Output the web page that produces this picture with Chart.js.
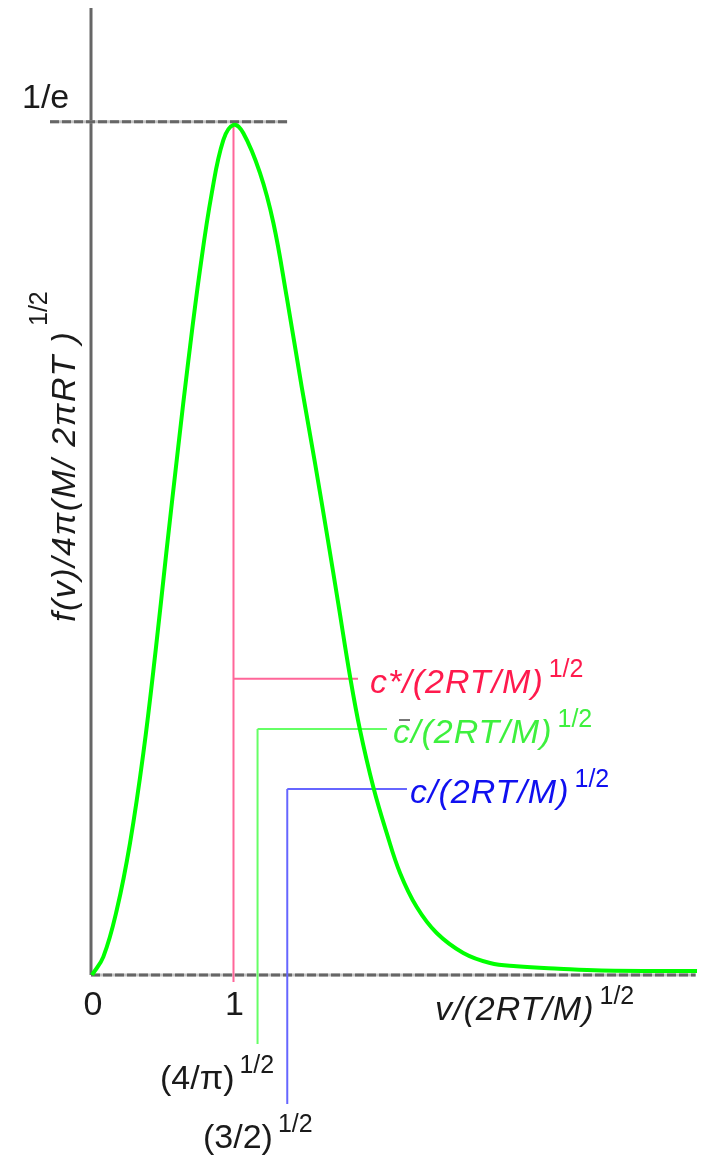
<!DOCTYPE html>
<html>
<head>
<meta charset="utf-8">
<script src="https://cdn.jsdelivr.net/npm/chart.js@4/dist/chart.umd.min.js"></script>
<style>
  html, body { margin: 0; padding: 0; background: #fff; }
  #mb { display: block; }
</style>
</head>
<body>
<canvas id="mb" width="704" height="1155"></canvas>
<script>
// reduced speed x = v/(2RT/M)^1/2 and reduced density
const xValues = [0, 0.080, 0.175, 0.269, 0.363, 0.450, 0.525, 0.610, 0.681, 0.763, 0.846, 0.928, 1.000,
  1.069, 1.187, 1.282, 1.376, 1.482, 1.576, 1.666, 1.741, 1.823, 1.894, 1.988, 2.083, 2.177, 2.295,
  2.436, 2.624, 2.813, 3.000, 3.300, 3.600, 4.276];
const fValues = [0, 0.0078, 0.0280, 0.0570, 0.0957, 0.1400, 0.1820, 0.2280, 0.2650, 0.3040, 0.3370, 0.3600, 0.3666,
  0.3631, 0.3459, 0.3243, 0.2924, 0.2536, 0.2208, 0.1880, 0.1600, 0.1290, 0.1057, 0.0811, 0.0612, 0.0440, 0.0293,
  0.0181, 0.0095, 0.0052, 0.0038, 0.0027, 0.0019, 0.0017];

const peakValue = 0.3679;              // 1/e
const xTicks = [0, 1];
const xTickLabels = ['0', '1'];

// c*, c-bar, c : marker speed, height of the leader, speed where the leader ends
const markerNames = ['c*/(2RT/M)', 'c/(2RT/M)', 'c/(2RT/M)'];
const markerSpeeds = [1.0, 1.17, 1.38];
const markerHeights = [0.1277, 0.1061, 0.0802];
const markerEnds = [1.88, 2.085, 2.226];
const markerFoot = [null, '(4/π)', '(3/2)'];

const LINE_COL = ['#ff6699', '#66ff66', '#6666ff'];
const TEXT_COL = ['#ff1a4d', '#3ef03e', '#1010f0'];
const MAIN = '34px "Liberation Sans", Arial, sans-serif';
const MAIN_I = 'italic 34px "Liberation Sans", Arial, sans-serif';
const SUP = '25px "Liberation Sans", Arial, sans-serif';

function dashed(ctx, x1, y1, x2, y2) {
  ctx.save();
  ctx.lineWidth = 3;
  ctx.strokeStyle = '#c4c4c4';
  ctx.beginPath(); ctx.moveTo(x1, y1); ctx.lineTo(x2, y2); ctx.stroke();
  ctx.strokeStyle = '#666';
  ctx.setLineDash([9, 3]);
  ctx.beginPath(); ctx.moveTo(x1, y1); ctx.lineTo(x2, y2); ctx.stroke();
  ctx.restore();
}

function seg(ctx, col, w, x1, y1, x2, y2) {
  ctx.save();
  ctx.strokeStyle = col; ctx.lineWidth = w;
  ctx.beginPath(); ctx.moveTo(x1, y1); ctx.lineTo(x2, y2); ctx.stroke();
  ctx.restore();
}

// main text + "1/2" superscript, left aligned at baseline
function withSup(ctx, text, x, y, font, col, spacing) {
  ctx.save();
  ctx.fillStyle = col;
  ctx.font = font;
  ctx.letterSpacing = (spacing || 0) + 'px';
  ctx.textAlign = 'left';
  ctx.textBaseline = 'alphabetic';
  ctx.fillText(text, x, y);
  const w = ctx.measureText(text).width;
  ctx.font = SUP;
  ctx.letterSpacing = '0px';
  ctx.fillText('1/2', x + w + 5, y - 16);
  ctx.restore();
  return w;
}

const overlay = {
  id: 'overlay',
  beforeDatasetsDraw(chart) {
    const { ctx, scales: { x, y } } = chart;
    const x0 = x.getPixelForValue(0) - 1, y0 = y.getPixelForValue(0);

    // vertical axis
    seg(ctx, '#666', 3, x0, y.top, x0, y0);
    // horizontal axis and 1/e level
    dashed(ctx, x0, y0, x.right - 2, y0);
    const yp = y.getPixelForValue(peakValue);
    dashed(ctx, 50, yp, x.getPixelForValue(1.38), yp);

    // marker leaders
    const drops = [7, 69, 129];
    markerSpeeds.forEach((s, i) => {
      const px = x.getPixelForValue(s);
      const py = y.getPixelForValue(markerHeights[i]);
      const top = i === 0 ? yp + 2 : py;
      seg(ctx, LINE_COL[i], 2, px, top, px, y0 + drops[i]);
      seg(ctx, LINE_COL[i], 2, px, py, x.getPixelForValue(markerEnds[i]), py);
    });
  },
  afterDatasetsDraw(chart) {
    const { ctx, scales: { x, y } } = chart;
    const y0 = y.getPixelForValue(0);

    ctx.save();
    ctx.fillStyle = '#1a1a1a';
    ctx.font = MAIN;
    ctx.textAlign = 'left';
    ctx.fillText('1/e', 22, y.getPixelForValue(peakValue) - 14);
    ctx.textAlign = 'center';
    xTicks.forEach((t, i) => ctx.fillText(xTickLabels[i], x.getPixelForValue(t) + 1, y0 + 40));
    ctx.restore();

    // x axis title
    withSup(ctx, 'v/(2RT/M)', 435, y0 + 45, MAIN_I, '#1a1a1a', 1);

    // feet labels under the marker leaders
    withSup(ctx, markerFoot[1], 160, y0 + 114, MAIN, '#1a1a1a', 0);
    withSup(ctx, markerFoot[2], 203, y0 + 173, MAIN, '#1a1a1a', 0);

    // marker labels
    const lx = [370, 393, 410];
    markerNames.forEach((m, i) => {
      const by = y.getPixelForValue(markerHeights[i]) + 14;
      withSup(ctx, m, lx[i], by, MAIN_I, TEXT_COL[i], 1);
    });
    // bar over c-bar
    seg(ctx, '#777', 2, 399, 720, 410, 720);

    // y axis title, rotated
    ctx.save();
    ctx.translate(75, 622);
    ctx.rotate(-Math.PI / 2);
    ctx.fillStyle = '#1a1a1a';
    ctx.font = MAIN_I;
    ctx.letterSpacing = '1.5px';
    ctx.textAlign = 'left';
    ctx.fillText('f(v)/4π(M/ 2πRT )', 0, 0);
    ctx.letterSpacing = '0px';
    ctx.font = SUP;
    ctx.fillText('1/2', 296, -28);
    ctx.restore();
  }
};

new Chart(document.getElementById('mb'), {
  type: 'line',
  data: {
    datasets: [{
      data: xValues.map((v, i) => ({ x: v, y: fValues[i] })),
      borderColor: '#00ff00',
      borderWidth: 4,
      pointRadius: 0,
      tension: 0.4,
      fill: false,
      clip: false
    }]
  },
  options: {
    responsive: false,
    animation: false,
    layout: { padding: { left: 92, right: 6.4, top: 8, bottom: 180 } },
    plugins: { legend: { display: false }, tooltip: { enabled: false } },
    scales: {
      x: { type: 'linear', min: 0, max: 4.28, display: false },
      y: { type: 'linear', min: 0, max: 0.417, display: false }
    }
  },
  plugins: [overlay]
});
</script>
</body>
</html>
